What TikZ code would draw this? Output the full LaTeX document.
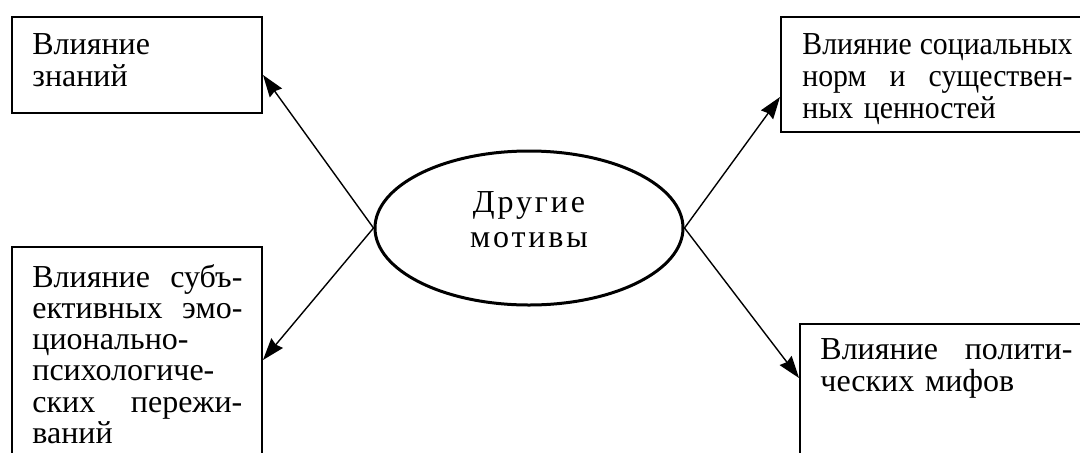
\documentclass[tikz,border=0pt]{standalone}
\usepackage{fontspec}
\setmainfont{Liberation Serif}
\usepackage{tikz}
\usetikzlibrary{shapes.geometric, arrows.meta}
\newcommand{\fullline}[1]{\makebox[\hsize][l]{#1}}

\begin{document}
\begin{tikzpicture}[x=0.5pt, y=0.5pt]
    \tikzstyle{infobox} = [rectangle, draw, line width=1pt, inner sep=0pt, anchor=north west]
    \tikzstyle{infotext} = [inner sep=0pt, anchor=north west, align=left,
                            font=\fontsize{16}{16.2}\selectfont]
    \tikzstyle{link} = [-{Stealth[length=11pt, width=7.5pt, inset=1pt]}, line width=0.7pt]

    \useasboundingbox (0,0) rectangle (1080,452);
    \clip (0,0) rectangle (1080,452);

    \node [ellipse, draw, line width=1.5pt, minimum width=154pt, minimum height=77pt,
           inner sep=0pt] (motives) at (529,224) {};
    \node [inner sep=0pt, anchor=north, align=center,
           font=\fontsize{16}{17.5}\selectfont\addfontfeature{LetterSpace=9}]
          (motivestext) at ([yshift=18.5pt]motives.center) {Другие\\мотивы};

    \node [infobox, minimum width=125pt, minimum height=48pt] (know) at (11,436) {};
    \node [infotext, text width=105pt] (knowtext) at ([shift={(10.5pt,-8.5pt)}]know.north west)
          {Влияние\\знаний};

    \node [infobox, minimum width=158pt, minimum height=57.5pt] (social) at (780,436) {};
    \node [infotext, text width=135pt, font=\fontsize{16}{16}\selectfont\addfontfeature{FakeStretch=0.93}]
          (socialtext) at ([shift={(11pt,-8.5pt)}]social.north west)
          {\fullline{Влияние\hfill социальных}\\
           \fullline{норм\hfill и\hfill существен-}\\
           ных ценностей};

    \node [infobox, minimum width=125pt, minimum height=108pt] (emot) at (11,206) {};
    \node [infotext, text width=105pt, font=\fontsize{16}{15.6}\selectfont]
          (emottext) at ([shift={(10.5pt,-9pt)}]emot.north west)
          {\fullline{Влияние\hfill субъ-}\\
           \fullline{ективных\hfill эмо-}\\
           ционально-\\
           психологиче-\\
           \fullline{ских\hfill пережи-}\\
           ваний};

    \node [infobox, minimum width=148.5pt, minimum height=69.5pt] (myth) at (799,129) {};
    \node [infotext, text width=126pt] (mythtext) at ([shift={(10.5pt,-7.5pt)}]myth.north west)
          {\fullline{Влияние\hfill полити-}\\
           ческих мифов};

    \draw [link] (motives.west) -- ([yshift=-29.5pt]know.north east);
    \draw [link] (motives.west) -- ([yshift=-57pt]emot.north east);
    \draw [link] (motives.east) -- ([yshift=-40.5pt]social.north west);
    \draw [link] (motives.east) -- ([yshift=-27.5pt]myth.north west);
\end{tikzpicture}
\end{document}
